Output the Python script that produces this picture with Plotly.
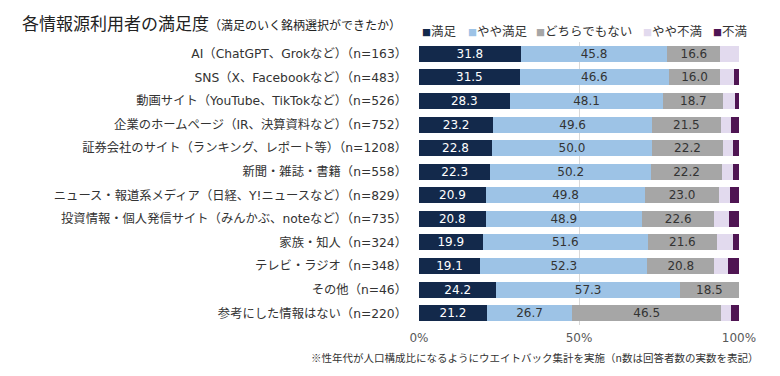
import plotly.graph_objects as go

categories = [
    "AI（ChatGPT、Grokなど）（n=163）",
    "SNS（X、Facebookなど）（n=483）",
    "動画サイト（YouTube、TikTokなど）（n=526）",
    "企業のホームページ（IR、決算資料など）（n=752）",
    "証券会社のサイト（ランキング、レポート等）（n=1208）",
    "新聞・雑誌・書籍（n=558）",
    "ニュース・報道系メディア（日経、Y!ニュースなど）（n=829）",
    "投資情報・個人発信サイト（みんかぶ、noteなど）（n=735）",
    "家族・知人（n=324）",
    "テレビ・ラジオ（n=348）",
    "その他（n=46）",
    "参考にした情報はない（n=220）",
]
series_names = ["満足", "やや満足", "どちらでもない", "やや不満", "不満"]
manzoku      = [31.8, 31.5, 28.3, 23.2, 22.8, 22.3, 20.9, 20.8, 19.9, 19.1, 24.2, 21.2]
yaya_manzoku = [45.8, 46.6, 48.1, 49.6, 50.0, 50.2, 49.8, 48.9, 51.6, 52.3, 57.3, 26.7]
dochira      = [16.6, 16.0, 18.7, 21.5, 22.2, 22.2, 23.0, 22.6, 21.6, 20.8, 18.5, 46.5]
yaya_fuman   = [5.8, 4.3, 3.5, 3.3, 3.2, 3.4, 3.6, 4.5, 4.9, 4.5, 0.0, 3.1]
fuman        = [0.0, 1.6, 1.4, 2.4, 1.8, 1.9, 2.7, 3.2, 2.0, 3.3, 0.0, 2.5]
tick_vals = [0, 50, 100]
tick_labels = ["0%", "50%", "100%"]

values = [manzoku, yaya_manzoku, dochira, yaya_fuman, fuman]
colors = ["#13294B", "#9DC3E6", "#A6A6A6", "#E2DAEE", "#4F1553"]
text_colors = ["#FFFFFF", "#333333", "#333333", "#333333", "#333333"]
show_text = [True, True, True, False, False]

FONT = "Noto Sans CJK JP"
MIX = "DejaVu Sans, Noto Sans CJK JP"

fig = go.Figure()
for name, vals, col, tcol, st in zip(series_names, values, colors, text_colors, show_text):
    fig.add_trace(go.Bar(
        y=categories, x=vals, name=name, orientation="h",
        marker=dict(color=col, line=dict(width=0)),
        text=[f"{v:.1f}" for v in vals] if st else None,
        textposition="inside" if st else "none",
        insidetextanchor="middle",
        textangle=0,
        constraintext="none",
        insidetextfont=dict(color=tcol, size=12, family="DejaVu Sans"),
        hoverinfo="skip",
        showlegend=False,
    ))

fig.update_layout(
    width=780, height=376,
    margin=dict(l=419, r=41, t=42, b=51, autoexpand=False),
    barmode="stack",
    bargap=0.32,
    paper_bgcolor="white",
    plot_bgcolor="white",
    font=dict(family=FONT, color="#333333"),
    xaxis=dict(
        range=[0, 100], tickvals=tick_vals, ticktext=tick_labels,
        showgrid=True, gridcolor="#D9D9D9", gridwidth=1,
        zeroline=False, showline=False, automargin=False,
        tickfont=dict(size=12, color="#595959", family="DejaVu Sans"),
        ticks="", ticklabelstandoff=4,
    ),
    yaxis=dict(
        autorange="reversed", automargin=False,
        tickfont=dict(size=12.3, color="#333333", family=MIX),
        ticks="", ticklabelstandoff=11,
        showgrid=False,
    ),
)

# title
fig.add_annotation(
    text="各情報源利用者の満足度<span style='font-size:12px'>（満足のいく銘柄選択ができたか）</span>",
    xref="paper", yref="paper", x=-399/320, y=1 + 19/283, xanchor="left", yanchor="middle",
    showarrow=False, font=dict(size=17, color="#222222", family=FONT),
)

# legend built as text
legend_x = [420, 466, 534, 641, 711]
for name, col, lx in zip(series_names, colors, legend_x):
    fig.add_annotation(
        text=f"<span style='color:{col};font-size:9px'>■</span>{name}",
        xref="paper", yref="paper", x=(lx - 419) / 320, y=1 + 11/283,
        xanchor="left", yanchor="middle", showarrow=False,
        font=dict(size=12.5, color="#333333", family=FONT),
    )

# footnote
fig.add_annotation(
    text="※性年代が人口構成比になるようにウエイトバック集計を実施（n数は回答者数の実数を表記）",
    xref="paper", yref="paper", x=(760 - 419) / 320, y=-32/283,
    xanchor="right", yanchor="middle", showarrow=False,
    font=dict(size=10.5, color="#333333", family=FONT),
)

fig.write_html("out.html", config={"displayModeBar": False},
               post_script="document.body.style.margin='0';")
